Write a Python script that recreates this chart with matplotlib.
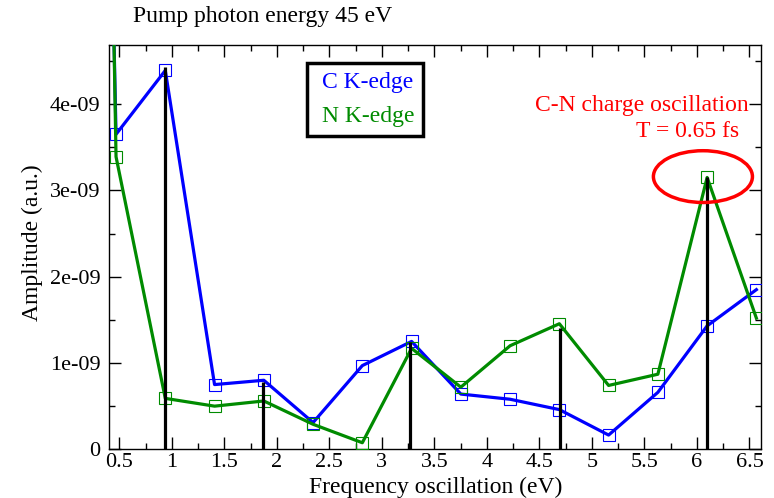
import numpy as np
import matplotlib
matplotlib.use('Agg')
import matplotlib.pyplot as plt
from matplotlib.patches import Ellipse
from matplotlib.ticker import MultipleLocator, FuncFormatter

plt.rcParams['font.family'] = ['Liberation Serif', 'DejaVu Serif']

# 数据 (频率 eV, 振幅 a.u.)
freq = [0.0, 0.469, 0.938, 1.407, 1.876, 2.345, 2.814, 3.283,
        3.752, 4.221, 4.690, 5.159, 5.628, 6.097, 6.566]
c_kedge = [3.0e-8, 3.65e-9, 4.39e-9, 0.75e-9, 0.80e-9, 0.31e-9, 0.97e-9, 1.25e-9,
           0.64e-9, 0.58e-9, 0.46e-9, 0.165e-9, 0.66e-9, 1.43e-9, 1.85e-9]
n_kedge = [3.5e-8, 3.39e-9, 0.59e-9, 0.50e-9, 0.56e-9, 0.29e-9, 0.076e-9, 1.17e-9,
           0.72e-9, 1.20e-9, 1.455e-9, 0.74e-9, 0.87e-9, 3.15e-9, 1.52e-9]

# 竖线 (特征频率)
stick_freq = [0.935, 1.87, 3.27, 4.70, 6.10]
stick_amp = [4.43e-9, 0.78e-9, 1.24e-9, 1.41e-9, 3.15e-9]

blue = '#0000ff'
green = '#008b00'
red = '#ff0000'

fig = plt.figure(figsize=(7.74, 4.98), dpi=100)
ax = fig.add_axes([109 / 774, 1 - 449.3 / 498, (761 - 109) / 774, (449.3 - 45) / 498])

ax.plot(freq, c_kedge, color=blue, lw=2.3, marker='s', ms=8, mfc='none',
        mec=blue, mew=0.8, label='C K-edge', zorder=3)
ax.plot(freq, n_kedge, color=green, lw=2.3, marker='s', ms=8, mfc='none',
        mec=green, mew=0.8, label='N K-edge', zorder=4)
ax.vlines(stick_freq, 0, stick_amp, colors='black', lw=2.3, zorder=5)

ax.add_patch(Ellipse((6.057, 3.16e-9), 0.943, 0.60e-9, fill=False,
                     edgecolor=red, lw=2.5, zorder=6))
ax.text(6.488, 3.92e-9, 'C-N charge oscillation', color=red, fontsize=17,
        ha='right', va='baseline', zorder=7)
ax.text(6.40, 3.62e-9, 'T = 0.65 fs', color=red, fontsize=17,
        ha='right', va='baseline', zorder=7)

ax.set_xlim(0.402, 6.61)
ax.set_ylim(0, 4.685e-9)

ax.xaxis.set_major_locator(MultipleLocator(0.5))
ax.xaxis.set_minor_locator(MultipleLocator(0.25))
ax.yaxis.set_major_locator(MultipleLocator(1e-9))
ax.yaxis.set_minor_locator(MultipleLocator(0.5e-9))
ax.xaxis.set_major_formatter(FuncFormatter(lambda v, p: f'{v:g}'))
ax.yaxis.set_major_formatter(FuncFormatter(lambda v, p: '0' if abs(v) < 1e-15 else f'{v:.0e}'))

ax.tick_params(which='both', direction='in', top=True, right=True, width=1.0)
ax.tick_params(which='major', length=8.6, labelsize=16)
ax.tick_params(which='minor', length=4.3)
ax.tick_params(axis='x', pad=3)
ax.tick_params(axis='y', pad=6)
for s in ax.spines.values():
    s.set_linewidth(1.0)

# 图例: 只显示彩色文字
leg = ax.legend(loc='upper left', bbox_to_anchor=(307 / 774, 1 - 63 / 498),
                bbox_transform=fig.transFigure, borderaxespad=0,
                handlelength=0, handletextpad=0.3, markerscale=0,
                labelcolor='linecolor', fontsize=17, fancybox=False,
                framealpha=1, edgecolor='black', borderpad=0.35, labelspacing=0.55)
leg.get_frame().set_linewidth(2.5)
for h in leg.legend_handles:
    h.set_visible(False)

fig.text(133 / 774, 1 - 22 / 498, 'Pump photon energy 45 eV', fontsize=17,
         ha='left', va='baseline')
fig.text(436 / 774, 1 - 487 / 498, 'Frequency oscillation (eV)', fontsize=17,
         ha='center', va='center')
fig.text(32 / 774, 1 - 242.5 / 498, 'Amplitude (a.u.)', fontsize=17,
         rotation=90, ha='center', va='center')

fig.savefig('out.png', dpi=100)
